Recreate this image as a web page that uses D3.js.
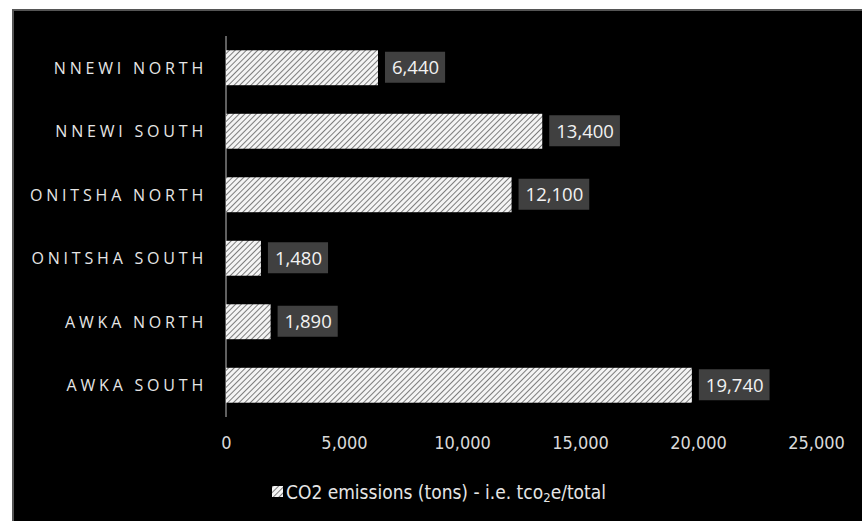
<!DOCTYPE html>
<html>
<head>
<meta charset="utf-8">
<script src="https://cdn.jsdelivr.net/npm/d3@7"></script>
<style>
  body { margin: 0; background: #fff; }
  svg { display: block; }
</style>
</head>
<body>
<div id="chart"></div>
<script>
// Data
var districts = ["NNEWI NORTH", "NNEWI SOUTH", "ONITSHA NORTH", "ONITSHA SOUTH", "AWKA NORTH", "AWKA SOUTH"];
var emissions = [6440, 13400, 12100, 1480, 1890, 19740];
var xTicks = [0, 5000, 10000, 15000, 20000, 25000];
var seriesName = "CO2 emissions (tons) - i.e. tco";

var svgWidth = 862;
var svgHeight = 521;

var margin = { top: 36, right: 45, bottom: 104, left: 226 };
var width = svgWidth - margin.left - margin.right;
var height = svgHeight - margin.top - margin.bottom;

var svg = d3.select("#chart")
  .append("svg")
  .attr("width", svgWidth)
  .attr("height", svgHeight);

// hatch pattern for the bars
var defs = svg.append("defs");
var pat = defs.append("pattern")
  .attr("id", "hatch")
  .attr("patternUnits", "userSpaceOnUse")
  .attr("width", 4)
  .attr("height", 4)
  .attr("patternTransform", "rotate(45)");
pat.append("rect").attr("width", 4).attr("height", 4).attr("fill", "#f4f4f4");
pat.append("line")
  .attr("x1", 0).attr("y1", 0).attr("x2", 0).attr("y2", 4)
  .attr("stroke", "#4a4a4a").attr("stroke-width", 1.4);

// black panel with a grey edge
svg.append("rect")
  .attr("x", 13).attr("y", 10)
  .attr("width", svgWidth - 10).attr("height", svgHeight - 8)
  .attr("fill", "#000")
  .attr("stroke", "#555")
  .attr("stroke-width", 2);

var chartGroup = svg.append("g")
  .attr("transform", `translate(${margin.left}, ${margin.top})`);

var data = districts.map((d, i) => ({ name: d, value: emissions[i] }));

var xLinearScale = d3.scaleLinear()
  .domain([0, 25000])
  .range([0, 590]);

var yBandScale = d3.scaleBand()
  .domain(districts)
  .range([0, height])
  .paddingInner(0.45)
  .paddingOuter(0.225);

// x axis: only tick labels, no line
var bottomAxis = d3.axisBottom(xLinearScale)
  .tickValues(xTicks)
  .tickFormat(d3.format(","))
  .tickSize(0)
  .tickPadding(0);

var xAxis = chartGroup.append("g")
  .attr("transform", `translate(0, ${height + 19})`)
  .call(bottomAxis);
xAxis.select(".domain").remove();
xAxis.selectAll("text")
  .attr("fill", "#d9d9d9")
  .attr("font-family", "'DejaVu Sans Condensed', sans-serif")
  .attr("font-size", "18px")
  .attr("dy", "0.71em");

// y axis line
chartGroup.append("line")
  .attr("x1", 0).attr("x2", 0)
  .attr("y1", 0).attr("y2", height)
  .attr("stroke", "#bfbfbf")
  .attr("stroke-width", 1);

// category labels
chartGroup.selectAll(".catLabel")
  .data(data)
  .enter()
  .append("text")
  .classed("catLabel", true)
  .attr("x", -19)
  .attr("y", d => yBandScale(d.name) + yBandScale.bandwidth() / 2)
  .attr("dy", "0.36em")
  .attr("text-anchor", "end")
  .attr("fill", "#e6e6e6")
  .attr("font-family", "'Open Sans', sans-serif")
  .attr("font-size", "16px")
  .attr("letter-spacing", "3.8px")
  .text(d => d.name);

// bars
chartGroup.selectAll(".bar")
  .data(data)
  .enter()
  .append("rect")
  .classed("bar", true)
  .attr("x", 0)
  .attr("y", d => yBandScale(d.name))
  .attr("width", d => xLinearScale(d.value))
  .attr("height", yBandScale.bandwidth())
  .attr("fill", "url(#hatch)");

// value labels in grey boxes
var labelGroup = chartGroup.selectAll(".valLabel")
  .data(data)
  .enter()
  .append("g")
  .classed("valLabel", true)
  .attr("transform", d => `translate(${xLinearScale(d.value) + 7}, ${yBandScale(d.name) + yBandScale.bandwidth() / 2})`);

labelGroup.append("text")
  .attr("x", 7)
  .attr("dy", "0.36em")
  .attr("fill", "#f2f2f2")
  .attr("font-family", "'Open Sans', sans-serif")
  .attr("font-size", "18.5px")
  .text(d => d3.format(",")(d.value));

labelGroup.each(function () {
  var g = d3.select(this);
  var w = g.select("text").node().getComputedTextLength();
  g.insert("rect", "text")
    .attr("x", 0)
    .attr("y", -16)
    .attr("width", w + 13)
    .attr("height", 31)
    .attr("fill", "#404040");
});

// legend
var legend = svg.append("g")
  .attr("transform", "translate(272, 492)");

legend.append("rect")
  .attr("x", 0).attr("y", -6)
  .attr("width", 11).attr("height", 11)
  .attr("fill", "url(#hatch)");

var legendText = legend.append("text")
  .attr("x", 14)
  .attr("dy", "0.36em")
  .attr("fill", "#e6e6e6")
  .attr("font-family", "'DejaVu Sans Condensed', sans-serif")
  .attr("font-size", "19px");
legendText.append("tspan").text(seriesName);
legendText.append("tspan").attr("font-size", "13px").attr("dy", "3").text("2");
legendText.append("tspan").attr("dy", "-3").text("e/total");
</script>
</body>
</html>
